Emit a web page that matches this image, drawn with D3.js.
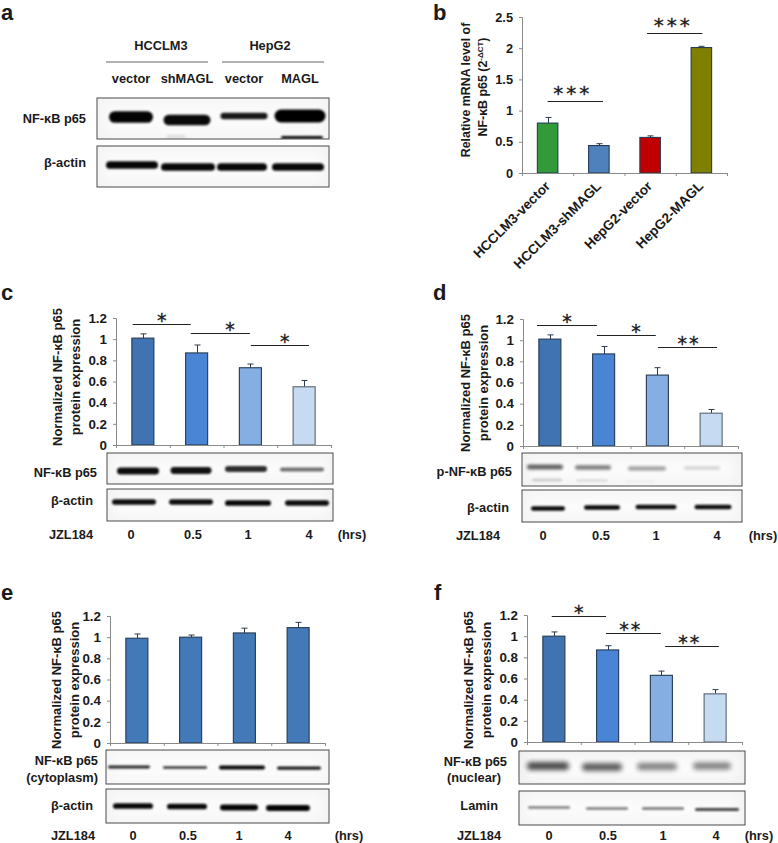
<!DOCTYPE html>
<html><head><meta charset="utf-8">
<script src="https://cdn.jsdelivr.net/npm/d3@7"></script>
<style>html,body{margin:0;padding:0;background:#fff}svg{display:block}text{font-family:"Liberation Sans",Arial,sans-serif;font-weight:bold;fill:#1a1a1a}</style>
</head><body><svg id="c" width="778" height="843"></svg>
<script>
// ---- data ----
const bCategories=["HCCLM3-vector","HCCLM3-shMAGL","HepG2-vector","HepG2-MAGL"];
const bValues=[0.80,0.44,0.57,2.01];
const bErrors=[0.09,0.03,0.025,0.02];
const bTicks=[0,0.5,1,1.5,2,2.5];
const hours=["0","0.5","1","4"];
const proteinTicks=[0,0.2,0.4,0.6,0.8,1,1.2];
const cValues=[1.01,0.87,0.73,0.55];
const cErrors=[0.04,0.075,0.035,0.06];
const dValues=[1.01,0.87,0.67,0.31];
const dErrors=[0.04,0.07,0.07,0.035];
const eValues=[0.99,1.0,1.04,1.09];
const eErrors=[0.04,0.02,0.045,0.05];
const fValues=[1.0,0.87,0.63,0.455];
const fErrors=[0.04,0.04,0.04,0.04];
// significance: from, to (bar positions), height (axis units), stars, star position
const bSig=[[0,1.08,1.154,"***",0.49],[1.94,3.02,2.244,"***",2.45]];
const cSig=[[-0.19,0.89,1.143,"*",0.37],[0.89,1.99,1.058,"*",1.64],[2.01,3.09,0.945,"*",2.66]];
const dSig=[[-0.24,0.875,1.144,"*",0.335],[0.875,1.97,1.049,"*",1.62],[2.01,3.11,0.936,"**",2.59]];
const fSig=[[-0.04,0.97,1.19,"*",0.48],[0.97,1.99,1.03,"**",1.43],[2.07,3.07,0.907,"**",2.53]];
// blot band intensities, lane by lane
const aNf=[0.98,0.96,0.9,1], aNfLow=[0,0.08,0,0.95], aActin=[0.97,0.97,0.97,0.97];
const cNf=[0.95,0.93,0.82,0.55], cActin=[0.95,0.95,0.97,0.95];
const dP=[0.6,0.5,0.38,0.18], dPLow=[0.16,0.1,0.04,0], dActin=[0.96,0.97,0.95,0.95];
const eNf=[0.85,0.8,0.97,0.9], eActin=[0.97,0.97,0.98,0.98];
const fNf=[0.72,0.66,0.5,0.5], fLamin=[0.5,0.52,0.55,0.72];

// ---- styles and layout ----
const shadesBlue=["#3f73b2","#4a84d4","#85aee3","#c6daf2"];
const plainBlue=["#4479b8","#4479b8","#4479b8","#4479b8"];
const bColors=["#339a3a","#4f81bd","#c00000","#808000"];
const labelSize=12.8;
const svg=d3.select("#c");
const defs=svg.append("defs");
[["soft1",1.1],["soft15",1.6],["soft2",2.4],["edge",6]].forEach(([id,s])=>{
  defs.append("filter").attr("id",id).attr("x","-30%").attr("y","-100%").attr("width","160%").attr("height","300%")
    .append("feGaussianBlur").attr("stdDeviation",s);
});
let clipN=0;
function label(x,y,t,size,anchor){
  return svg.append("text").attr("x",x).attr("y",y).attr("font-size",size).attr("text-anchor",anchor||"middle").text(t);
}
function panelLetter(x,y,t){label(x,y,t,22,"start");}
function blot(box,rows){
  const id="clip"+(clipN++);
  defs.append("clipPath").attr("id",id).append("rect").attr("x",box.x0).attr("y",box.y0).attr("width",box.x1-box.x0).attr("height",box.y1-box.y0);
  const g=svg.append("g").attr("clip-path",`url(#${id})`);
  g.append("rect").attr("x",box.x0).attr("y",box.y0).attr("width",box.x1-box.x0).attr("height",box.y1-box.y0).attr("fill",box.bg||"#f3f3f3");
  g.append("rect").attr("x",box.x0+6).attr("y",box.y0+4).attr("width",box.x1-box.x0-12).attr("height",box.y1-box.y0-8).attr("fill","#fbfbfb").attr("filter","url(#edge)");
  rows.forEach(r=>{
    const lane=d3.scaleOrdinal().domain([0,1,2,3]).range(r.lanes);
    const thick=d3.scaleLinear().domain(r.dom).range(r.thick);
    g.selectAll(null).data(r.values.map((v,i)=>({v,i})).filter(d=>d.v>0)).join("rect")
      .attr("x",d=>lane(d.i)-r.w[d.i]/2)
      .attr("y",d=>r.y[d.i]-thick(d.v)/2)
      .attr("width",d=>r.w[d.i])
      .attr("height",d=>thick(d.v))
      .attr("rx",d=>thick(d.v)/2)
      .attr("fill","#000").attr("opacity",d=>d.v)
      .attr("filter",`url(#${r.blur||"soft1"})`);
  });
  svg.append("rect").attr("x",box.x0).attr("y",box.y0).attr("width",box.x1-box.x0).attr("height",box.y1-box.y0)
    .attr("fill","none").attr("stroke","#4a4a4a").attr("stroke-width",1);
}
function bars(p,cats,values,errors,colors,ticks,sig){
  const x=d3.scaleBand().domain(cats).range([p.x0,p.x1]).paddingInner(p.pad).paddingOuter(p.pad/2);
  const y=d3.scaleLinear().domain([0,p.max]).range([p.y0,p.y1]);
  const step=x.step();
  const pos=d3.scaleLinear().domain([0,1]).range([p.x0+step/2,p.x0+step*1.5]);
  const data=cats.map((c,i)=>({c,v:values[i],e:errors[i],col:colors[i]}));
  const g=svg.append("g");
  g.selectAll(".eb").data(data).join("path").attr("fill","none").attr("stroke","#2b3a4d").attr("stroke-width",1)
    .attr("d",d=>{const m=Math.round(x(d.c)+x.bandwidth()/2)+.5,t=y(d.v+d.e);return `M${m},${y(d.v)}V${t}M${m-3},${t}H${m+3}`;});
  g.selectAll(".bar").data(data).join("rect")
    .attr("x",d=>x(d.c)).attr("y",d=>y(d.v)).attr("width",x.bandwidth()).attr("height",d=>p.y0-y(d.v))
    .attr("fill",d=>d.col).attr("stroke",d=>d.col===colors[3]&&p.lightEdge?"#5a6470":"#243a52").attr("stroke-width",1.1);
  const ya=d3.axisLeft(y).tickValues(ticks).tickSize(3).tickPadding(p.tickPad||6).tickFormat(d=>String(d));
  const ag=g.append("g").attr("transform",`translate(${p.x0},0)`).call(ya);
  ag.selectAll("path,line").attr("stroke","#8a8a8a");
  ag.selectAll("text").attr("font-size",p.tickSize).attr("font-family",'"Liberation Sans",Arial,sans-serif').attr("font-weight","bold").attr("fill","#1a1a1a");
  const edges=d3.scaleLinear().domain([0,cats.length]).range([p.x0,p.x1]);
  const xa=d3.axisBottom(edges).tickValues(d3.range(cats.length+1)).tickSize(3).tickFormat("");
  const xg=g.append("g").attr("transform",`translate(0,${p.y0})`).call(xa);
  xg.selectAll("path,line").attr("stroke","#8a8a8a");
  (sig||[]).forEach(s=>{
    const ly=Math.round(y(s[2]))+.5;
    g.append("line").attr("x1",pos(s[0])).attr("x2",pos(s[1])).attr("y1",ly).attr("y2",ly).attr("stroke","#222").attr("stroke-width",1);
    g.append("text").attr("x",pos(s[4])).attr("y",ly+(p.starDy||0)).attr("text-anchor","middle")
      .style("font-family",'"DejaVu Sans",sans-serif').style("font-weight","normal").style("stroke","#1a1a1a").style("stroke-width","0.35px")
      .attr("font-size",p.starSize||19).attr("letter-spacing",p.starGap||"2px").text(s[3]);
  });
  return {x,y};
}
function yTitle(x1,x2,cy,l1,l2,size){
  [[x1,l1],[x2,l2]].forEach(([xp,t])=>{
    svg.append("text").attr("transform",`translate(${xp},${cy}) rotate(-90)`).attr("text-anchor","middle").attr("font-size",size).text(t);
  });
}
function footer(y,xs,hrsX){
  label(xs[0],y,"JZL184",labelSize);
  hours.forEach((h,i)=>label(xs[i+1],y,h,labelSize));
  label(hrsX,y,"(hrs)",labelSize);
}

// ---- panel a ----
panelLetter(1,20,"a");
label(161,50,"HCCLM3",labelSize);label(270,50,"HepG2",labelSize);
svg.append("path").attr("d","M106,62H208M222,62H324").attr("stroke","#666").attr("stroke-width",1.2).attr("fill","none");
["vector","shMAGL","vector","MAGL"].forEach((t,i)=>label([131,187,244,300][i],83,t,labelSize));
label(86,123,"NF-κB p65",labelSize,"end");label(86,167,"β-actin",labelSize,"end");
blot({x0:97,x1:329,y0:98,y1:139},[
 {lanes:[131,187,244,300],y:[117,120,116,116],w:[44,47,47,51],dom:[0.9,1],thick:[6.5,13],values:aNf},
 {lanes:[131,176,244,302],y:[137,137,137,137.5],w:[40,20,40,42],dom:[0,1],thick:[5,3],values:aNfLow}]);
blot({x0:97,x1:329,y0:146,y1:187},[
 {lanes:[132,188,242,298],y:[165,167,167,167],w:[52,54,50,52],dom:[0.9,1],thick:[7,8],values:aActin}]);

// ---- panel b ----
panelLetter(433,20,"b");
bars({x0:522,x1:727,y0:173,y1:17,max:2.5,pad:0.6,tickSize:12.8,starSize:20,starDy:-2,starGap:"3px"},bCategories,bValues,bErrors,bColors,bTicks,bSig);
svg.append("text").attr("transform","translate(470,90) rotate(-90)").attr("text-anchor","middle").attr("font-size",12.4).text("Relative mRNA level of");
const bt=svg.append("text").attr("transform","translate(487,87) rotate(-90)").attr("text-anchor","middle").attr("font-size",12.4);
bt.append("tspan").text("NF-κB p65 (2");
bt.append("tspan").attr("dy",-4).attr("font-size",8).text("-ΔCT");
bt.append("tspan").attr("dy",4).text(")");
bCategories.forEach((t,i)=>{
  svg.append("text").attr("transform",`translate(${[551,602,653,704][i]},187) rotate(-45)`).attr("text-anchor","end").attr("font-size",13.6).text(t);
});

// ---- panel c ----
panelLetter(1,300,"c");
bars({x0:116,x1:331,y0:445,y1:318,max:1.2,pad:0.59,tickSize:13.4,lightEdge:true,starDy:2},hours,cValues,cErrors,shadesBlue,proteinTicks,cSig);
yTitle(62,80,377,"Normalized NF-κB p65","protein expression",13);
label(97,477,"NF-κB p65",labelSize,"end");label(93,505,"β-actin",labelSize,"end");
blot({x0:107,x1:333,y0:453,y1:484},[
 {lanes:[138,191,246,302],y:[471,470.5,469,469.5],w:[42,41,42,44],dom:[0.55,0.95],thick:[4,7],values:cNf}]);
blot({x0:107,x1:333,y0:489,y1:521},[
 {lanes:[134,191,248,307],y:[502,502,503,503],w:[44,44,46,44],dom:[0.9,1],thick:[5,6],values:cActin}]);
footer(539,[71,131,193,248,309],352);

// ---- panel d ----
panelLetter(433,300,"d");
bars({x0:523,x1:738,y0:446,y1:319,max:1.2,pad:0.59,tickSize:13.4,lightEdge:true,starDy:2},hours,dValues,dErrors,shadesBlue,proteinTicks,dSig);
yTitle(470,488,383,"Normalized NF-κB p65","protein expression",13);
label(512,476,"p-NF-κB p65",labelSize,"end");label(509,512,"β-actin",labelSize,"end");
blot({x0:522,x1:742,y0:453,y1:486,bg:"#f1f1f1"},[
 {lanes:[545,593,647,702],y:[467,467.5,468.5,468],w:[36,36,38,36],dom:[0.18,0.6],thick:[3,5],values:dP,blur:"soft15"},
 {lanes:[547,592,640,702],y:[480,480.5,481,481],w:[30,32,30,20],dom:[0,0.16],thick:[2,3],values:dPLow}]);
blot({x0:522,x1:742,y0:490,y1:522},[
 {lanes:[548,602,656,713],y:[508.5,507.5,507,507],w:[34,36,41,37],dom:[0.9,1],thick:[4,5],values:dActin}]);
footer(540,[478,543,601,656,717],763);

// ---- panel e ----
panelLetter(1,600,"e");
bars({x0:110,x1:325,y0:743,y1:616,max:1.2,pad:0.59,tickSize:13.4},hours,eValues,eErrors,plainBlue,proteinTicks);
yTitle(61,79,680,"Normalized NF-κB p65","protein expression",13);
label(98,765,"NF-κB p65",labelSize,"end");label(98,782,"(cytoplasm)",labelSize,"end");label(93,810,"β-actin",labelSize,"end");
blot({x0:106,x1:329,y0:750,y1:784,bg:"#f5f5f5"},[
 {lanes:[129,185,242,299],y:[767,767.5,767.5,768],w:[42,44,46,44],dom:[0.8,1],thick:[2.5,4],values:eNf}]);
blot({x0:106,x1:329,y0:789,y1:823},[
 {lanes:[133,187,239,288],y:[806,806.5,807.5,808],w:[40,40,38,44],dom:[0.9,1],thick:[5,6],values:eActin}]);
footer(840,[73,133,188,239,288],349);

// ---- panel f ----
panelLetter(434,600,"f");
bars({x0:527,x1:742,y0:742,y1:615,max:1.2,pad:0.59,tickSize:13.4,lightEdge:true,starDy:2},hours,fValues,fErrors,shadesBlue,proteinTicks,fSig);
yTitle(473,491,680,"Normalized NF-κB p65","protein expression",13);
label(507,766,"NF-κB p65",labelSize,"end");label(501,782,"(nuclear)",labelSize,"end");label(498,810,"Lamin",labelSize,"end");
blot({x0:519,x1:745,y0:751,y1:784,bg:"#efefef"},[
 {lanes:[548,602,657,712],y:[766,767,766.5,766],w:[42,40,40,38],dom:[0.5,0.72],thick:[7,8],values:fNf,blur:"soft2"}]);
blot({x0:519,x1:745,y0:791,y1:825},[
 {lanes:[549,607,663,717],y:[807.5,808.5,808.5,809.5],w:[42,42,42,44],dom:[0.5,0.72],thick:[2.5,3],values:fLamin}]);
footer(840,[479,549,608,663,716],759);
</script></body></html>
